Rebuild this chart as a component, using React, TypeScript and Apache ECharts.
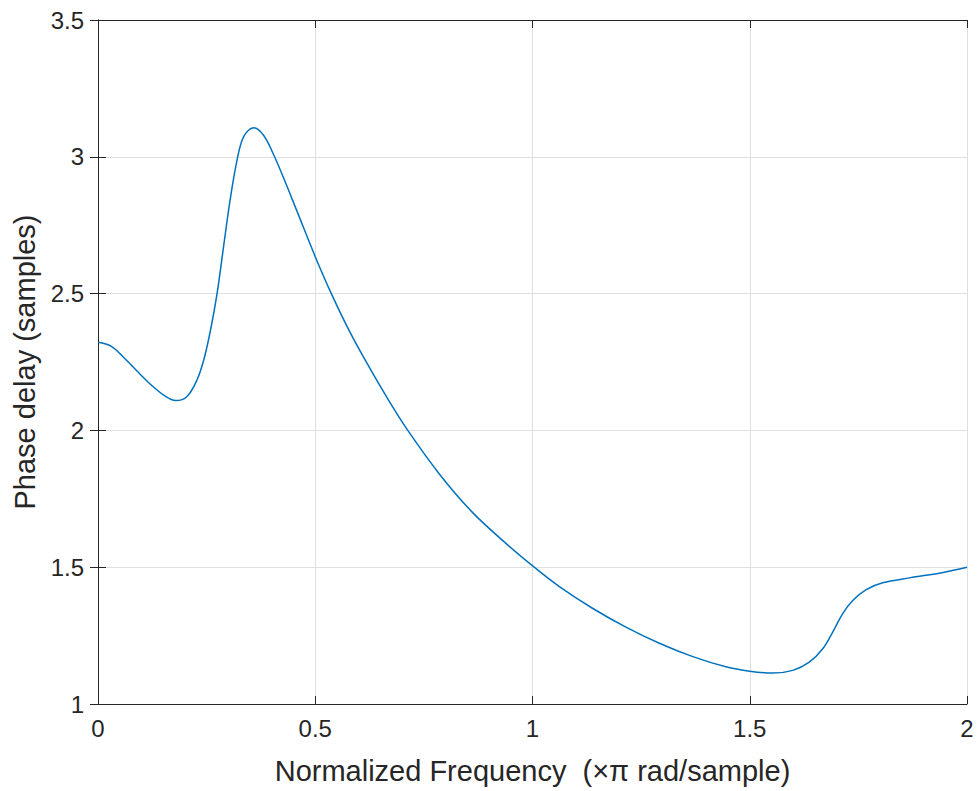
import React, { useEffect, useRef } from "react";
import * as echarts from "echarts";

const freq: number[] = [
  0, 0.03, 0.061, 0.091, 0.122, 0.152, 0.179, 0.205, 0.228, 0.2435, 0.259, 0.274, 0.289,
  0.304, 0.32, 0.335, 0.358, 0.381, 0.403, 0.426, 0.457, 0.5, 0.537, 0.579, 0.621, 0.667,
  0.713, 0.786, 0.859, 0.931, 1.004, 1.061, 1.138, 1.215, 1.292, 1.369, 1.445, 1.5,
  1.553, 1.599, 1.637, 1.668, 1.691, 1.714, 1.737, 1.768, 1.806, 1.868, 1.945, 2.0,
];
const phaseDelay: number[] = [
  2.322, 2.308, 2.264, 2.215, 2.167, 2.128, 2.109, 2.124, 2.185, 2.258, 2.367, 2.5, 2.672,
  2.842, 2.988, 3.073, 3.106, 3.079, 3.012, 2.927, 2.805, 2.635, 2.5, 2.362, 2.24, 2.115,
  2.0, 1.84, 1.705, 1.598, 1.5, 1.43, 1.35, 1.281, 1.222, 1.173, 1.136, 1.12,
  1.113, 1.123, 1.153, 1.202, 1.263, 1.33, 1.378, 1.418, 1.443, 1.461, 1.481, 1.5,
];
const xTicks: number[] = [0, 0.5, 1, 1.5, 2];
const yTicks: number[] = [1, 1.5, 2, 2.5, 3, 3.5];

const TXT = "#262626";
const FONT = "'Liberation Sans', Arial, Helvetica, sans-serif";

export default function App() {
  const ref = useRef<HTMLDivElement>(null);
  useEffect(() => {
    if (!ref.current) return;
    const chart = echarts.init(ref.current, undefined, { renderer: "svg" });
    const data = freq.map((x, i) => [x, phaseDelay[i]]);
    const baseX = {
      type: "value" as const,
      min: xTicks[0],
      max: xTicks[xTicks.length - 1],
      interval: 0.5,
      axisLine: { show: true, lineStyle: { color: TXT, width: 1 } },
      axisTick: { show: true, inside: true, length: 8, lineStyle: { color: TXT } },
    };
    const baseY = {
      type: "value" as const,
      min: yTicks[0],
      max: yTicks[yTicks.length - 1],
      interval: 0.5,
      axisLine: { show: true, lineStyle: { color: TXT, width: 1 } },
      axisTick: { show: true, inside: true, length: 8, lineStyle: { color: TXT } },
    };
    chart.setOption({
      animation: false,
      backgroundColor: "#ffffff",
      grid: { left: 98, right: 10, top: 20, bottom: 87, containLabel: false },
      xAxis: [
        {
          ...baseX,
          position: "bottom",
          name: "Normalized Frequency  (×π rad/sample)",
          nameLocation: "middle",
          nameGap: 52,
          nameTextStyle: { color: TXT, fontSize: 29, fontFamily: FONT },
          axisLabel: { color: TXT, fontSize: 24, fontFamily: FONT, margin: 12 },
          splitLine: { show: true, lineStyle: { color: "#dfdfdf", width: 1 } },
        },
        {
          ...baseX,
          position: "top",
          axisLabel: { show: false },
          splitLine: { show: false },
        },
      ],
      yAxis: [
        {
          ...baseY,
          position: "left",
          name: "Phase delay (samples)",
          nameLocation: "middle",
          nameGap: 54,
          nameTextStyle: { color: TXT, fontSize: 29, fontFamily: FONT },
          axisLabel: { color: TXT, fontSize: 24, fontFamily: FONT, margin: 14 },
          splitLine: { show: true, lineStyle: { color: "#dfdfdf", width: 1 } },
        },
        {
          ...baseY,
          position: "right",
          axisLabel: { show: false },
          splitLine: { show: false },
        },
      ],
      series: [
        {
          type: "line",
          data,
          smooth: 0.35,
          showSymbol: false,
          symbol: "none",
          lineStyle: { color: "#0072BD", width: 1.5 },
          xAxisIndex: 0,
          yAxisIndex: 0,
        },
      ],
    });
    return () => chart.dispose();
  }, []);
  return (
    <div
      ref={ref}
      style={{ position: "fixed", left: 0, top: 0, width: 977, height: 791 }}
    />
  );
}
